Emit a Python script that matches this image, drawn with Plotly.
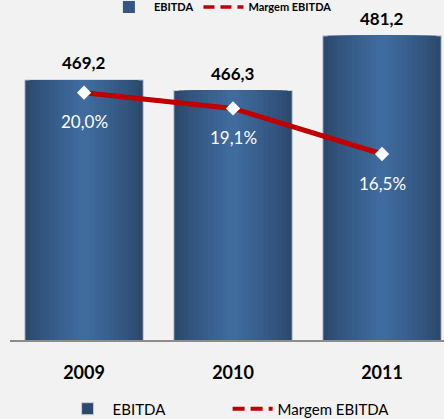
import plotly.graph_objects as go

years = ['2009', '2010', '2011']
ebitda = [469.2, 466.3, 481.2]
margem = [20.0, 19.1, 16.5]
ebitda_labels = ['469,2', '466,3', '481,2']
margem_labels = ['20,0%', '19,1%', '16,5%']

FONT = 'Lato'

fig = go.Figure()

# gradient bars: layered overlay bars, dark at edges, light in centre
dark = (44, 72, 108)
light = (63, 107, 158)
n = 12
full_w = 0.795
for i in range(n):
    t = i / (n - 1)
    c = tuple(int(dark[k] + (light[k] - dark[k]) * (t ** 0.8)) for k in range(3))
    w = full_w * (1 - 0.9 * t)
    if i == 0:
        kw = dict(name='EBITDA', showlegend=True, legend='legend',
                  marker_line=dict(color='#c9ced6', width=1))
    elif i == 4:
        kw = dict(name='EBITDA', showlegend=True, legend='legend2',
                  marker_line=dict(width=0))
    else:
        kw = dict(showlegend=False, marker_line=dict(width=0))
    fig.add_trace(go.Bar(x=years, y=ebitda, width=w,
                         marker_color='rgb(%d,%d,%d)' % c,
                         hoverinfo='skip', **kw))

# dashed legend-carrier traces (hidden beneath the solid line)
fig.add_trace(go.Scatter(x=years, y=margem, yaxis='y2', mode='lines',
                         name='Margem EBITDA', legend='legend',
                         line=dict(color='#c00000', width=4, dash='12px,6px')))
fig.add_trace(go.Scatter(x=years, y=margem, yaxis='y2', mode='lines',
                         name='Margem EBITDA', legend='legend2',
                         line=dict(color='#c00000', width=3.5, dash='11px,6px')))
# solid line
fig.add_trace(go.Scatter(x=years, y=margem, yaxis='y2', mode='lines',
                         showlegend=False,
                         line=dict(color='#c00000', width=5)))
# markers
fig.add_trace(go.Scatter(x=years, y=margem, yaxis='y2', mode='markers',
                         showlegend=False,
                         marker=dict(symbol='diamond', color='white', size=11,
                                     line=dict(width=0))))

annotations = []
for i, (v, lab) in enumerate(zip(ebitda, ebitda_labels)):
    annotations.append(dict(x=i, y=v, xref='x', yref='y', text=lab,
                            showarrow=False, yanchor='middle', yshift=17,
                            font=dict(family=FONT, size=17, color='black',
                                      weight='bold')))
for i, (v, lab) in enumerate(zip(margem, margem_labels)):
    annotations.append(dict(x=i, y=v, xref='x', yref='y2', text=lab,
                            showarrow=False, yanchor='middle', yshift=-29,
                            font=dict(family=FONT, size=17, color='white')))

fig.update_layout(
    width=444, height=419,
    margin=dict(l=10, r=0, t=30, b=79),
    paper_bgcolor='#f2f2f2', plot_bgcolor='#f2f2f2',
    barmode='overlay',
    font=dict(family=FONT),
    xaxis=dict(type='category', range=[-0.497, 2.416],
               showgrid=False, zeroline=False,
               showline=True, linecolor='#8c8c8c', linewidth=2,
               ticks='', ticklabelstandoff=15,
               tickfont=dict(family=FONT, size=18, color='black',
                             weight='bold')),
    yaxis=dict(range=[398.3, 482.8], visible=False, showgrid=False),
    yaxis2=dict(range=[5.88, 23.58], overlaying='y', visible=False,
                showgrid=False),
    legend=dict(orientation='h', xref='container', yref='container',
                x=0.141, xanchor='left', y=0.024, yanchor='middle',
                bgcolor='rgba(0,0,0,0)',
                font=dict(family=FONT, size=15, color='black'),
                itemwidth=40, entrywidth=110, entrywidthmode='pixels'),
    legend2=dict(orientation='h', xref='container', yref='container',
                 x=0.234, xanchor='left', y=0.983, yanchor='middle',
                 bgcolor='rgba(0,0,0,0)',
                 font=dict(family=FONT, size=11, color='black',
                           weight='bold'),
                 itemwidth=40),
    annotations=annotations,
    showlegend=True,
)

fig.write_html('out.html',
               config={'displayModeBar': False},
               post_script="document.body.style.margin='0';"
                           "document.body.style.background='#f2f2f2';")
